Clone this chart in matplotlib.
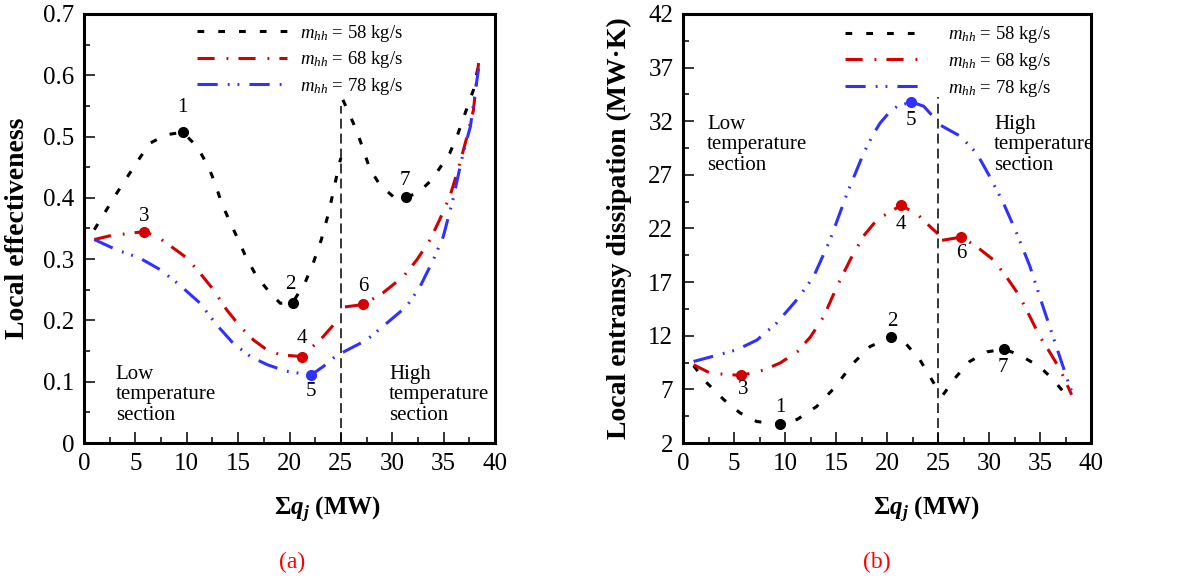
import matplotlib
matplotlib.use('Agg')
import matplotlib.pyplot as plt
from matplotlib.ticker import MultipleLocator, FuncFormatter

plt.rcParams['font.family'] = ['Liberation Serif', 'DejaVu Serif']
plt.rcParams['mathtext.fontset'] = 'custom'
plt.rcParams['mathtext.rm'] = 'Liberation Serif'
plt.rcParams['mathtext.it'] = 'Liberation Serif:italic'
plt.rcParams['mathtext.bf'] = 'Liberation Serif:bold'
plt.rcParams['mathtext.bfit'] = 'Liberation Serif:bold:italic'

# ---- data ----
labels = [r'$m_{hh}$ = 58 kg/s', r'$m_{hh}$ = 68 kg/s', r'$m_{hh}$ = 78 kg/s']

# (a) local effectiveness
eff58_low_x = [1.0, 3.2, 5.3, 6.4, 8.0, 9.6, 11.0, 12.1, 12.75, 13.4, 14.2, 15.0, 15.8, 16.8, 18.1, 19.1, 20.3, 21.5, 22.3, 23.1, 23.8, 24.3, 24.85, 25.0]
eff58_low_y = [0.348, 0.408, 0.462, 0.489, 0.503, 0.507, 0.484, 0.451, 0.424, 0.391, 0.361, 0.332, 0.302, 0.272, 0.245, 0.228, 0.229, 0.261, 0.293, 0.332, 0.375, 0.413, 0.456, 0.465]
eff58_high_x = [25.2, 26.5, 27.2, 27.8, 28.8, 30.1, 31.3, 32.5, 33.7, 34.6, 35.6, 36.4, 37.2, 37.9, 38.4]
eff58_high_y = [0.56, 0.511, 0.478, 0.448, 0.421, 0.402, 0.401, 0.408, 0.427, 0.448, 0.473, 0.505, 0.543, 0.576, 0.617]
eff68_low_x = [1.0, 2.5, 5.84, 7.1, 8.7, 10.0, 11.3, 12.6, 13.9, 15.2, 16.5, 17.8, 19.1, 21.2, 22.3, 23.3, 24.3, 25.0]
eff68_low_y = [0.332, 0.338, 0.345, 0.337, 0.318, 0.302, 0.277, 0.25, 0.217, 0.19, 0.168, 0.152, 0.144, 0.141, 0.158, 0.174, 0.193, 0.206]
eff68_high_x = [25.4, 27.2, 29.1, 31.1, 32.4, 33.7, 34.6, 35.6, 36.4, 37.2, 37.9, 38.4]
eff68_high_y = [0.222, 0.226, 0.245, 0.272, 0.299, 0.332, 0.364, 0.402, 0.446, 0.495, 0.543, 0.62]
eff78_low_x = [1.0, 3.2, 5.4, 7.4, 9.3, 11.3, 12.9, 14.5, 16.2, 17.8, 19.7, 22.1, 23.3, 24.3, 25.0]
eff78_low_y = [0.332, 0.315, 0.302, 0.283, 0.258, 0.228, 0.193, 0.163, 0.141, 0.128, 0.117, 0.111, 0.125, 0.139, 0.145]
eff78_high_x = [25.2, 27.5, 29.5, 31.4, 32.7, 34.0, 34.97, 35.9, 36.9, 37.6, 38.4]
eff78_high_y = [0.148, 0.168, 0.196, 0.223, 0.255, 0.299, 0.337, 0.397, 0.473, 0.516, 0.611]

eff_pts_x = [[9.6, 20.3, 31.3], [5.84, 21.2, 27.2], [22.1]]
eff_pts_y = [[0.507, 0.229, 0.401], [0.345, 0.141, 0.226], [0.111]]
eff_num = ['1', '2', '3', '4', '5', '6', '7']
eff_num_x = [9.6, 20.1, 5.84, 21.2, 22.06, 27.2, 31.2]
eff_num_y = [0.548, 0.258, 0.37, 0.171, 0.084, 0.255, 0.429]

# (b) local entransy dissipation
ent58_low_x = [1.04, 2.35, 4.0, 5.6, 7.25, 9.5, 11.2, 13.1, 14.8, 16.7, 18.35, 20.4, 21.9, 23.2, 24.2, 24.9]
ent58_low_y = [9.2, 7.6, 6.04, 4.8, 4.0, 3.77, 4.2, 5.4, 7.1, 9.45, 11.0, 11.85, 11.2, 9.8, 8.2, 7.1]
ent58_high_x = [25.5, 26.8, 28.1, 29.8, 31.5, 33.0, 35.0, 36.3, 37.8]
ent58_high_y = [6.5, 8.2, 9.6, 10.5, 10.75, 10.2, 9.1, 7.9, 6.2]
ent68_low_x = [1.04, 2.7, 5.7, 7.9, 9.5, 11.2, 12.5, 13.8, 15.1, 16.4, 17.7, 19.0, 21.35, 22.9, 24.2, 25.0]
ent68_low_y = [9.3, 8.5, 8.3, 8.8, 9.45, 10.5, 11.9, 13.8, 16.6, 19.1, 21.3, 22.8, 24.15, 23.4, 22.2, 21.5]
ent68_high_x = [25.4, 27.3, 28.8, 30.4, 31.7, 33.0, 34.0, 35.0, 36.0, 37.0, 38.1]
ent68_high_y = [20.9, 21.2, 20.3, 19.1, 17.5, 15.7, 13.8, 11.9, 10.4, 8.8, 6.5]
ent78_low_x = [1.04, 3.0, 5.3, 7.25, 9.2, 11.2, 12.8, 14.4, 16.1, 17.7, 18.6, 19.3, 20.2, 21.0, 22.4, 23.6, 24.55, 25.0]
ent78_low_y = [9.6, 10.1, 10.7, 11.6, 13.2, 15.4, 17.5, 20.9, 25.3, 29.0, 30.7, 31.8, 32.8, 33.4, 33.8, 33.4, 32.4, 32.0]
ent78_high_x = [25.3, 27.2, 28.8, 30.1, 31.4, 32.7, 34.0, 35.3, 36.6, 37.9, 38.3]
ent78_high_y = [31.6, 30.6, 29.0, 26.8, 24.4, 21.6, 18.5, 14.7, 11.0, 7.3, 6.4]

ent_pts_x = [[9.5, 20.4, 31.5], [5.7, 21.35, 27.3], [22.4]]
ent_pts_y = [[3.77, 11.85, 10.75], [8.3, 24.15, 21.2], [33.8]]
ent_num = ['1', '2', '3', '4', '5', '6', '7']
ent_num_x = [9.53, 20.5, 5.94, 21.35, 22.3, 27.3, 31.4]
ent_num_y = [5.3, 13.3, 7.0, 22.35, 32.1, 19.7, 9.0]

colours = ('black', '#d40000', '#3030ff')
dash_styles = ((0, (2.2, 4.6)),
               (0, (5.6, 3.9, 0.6, 3.3)),
               (0, (6.6, 3.3, 0.6, 2.6, 0.6, 3.3)))
LW = 2.2


def style_axes(ax, ymin, ymax, ymajor, yminor, yoff, ylabel):
    ax.set_xlim(0, 40)
    ax.set_ylim(ymin, ymax)
    ax.xaxis.set_major_locator(MultipleLocator(5))
    ax.xaxis.set_minor_locator(MultipleLocator(2.5))
    ax.yaxis.set_major_locator(MultipleLocator(ymajor, offset=yoff))
    ax.yaxis.set_minor_locator(MultipleLocator(yminor, offset=yoff))
    ax.tick_params(which='both', direction='in', top=False, right=False,
                   labelsize=18, width=1.1, pad=7)
    ax.tick_params(which='major', length=8)
    ax.tick_params(which='minor', length=4.5)
    for s in ax.spines.values():
        s.set_linewidth(2.2)
    ax.set_ylabel(ylabel, fontsize=20, fontweight='bold')
    ax.set_xlabel('Σ' + r'$\mathbfit{q}_{\mathbfit{j}}$' + ' (MW)', fontsize=18, fontweight='bold')


def plot_panel(ax, segs, pts_x, pts_y, num, num_x, num_y):
    for i, (lx, ly, hx, hy) in enumerate(segs):
        ax.plot(lx, ly, color=colours[i], lw=LW, linestyle=dash_styles[i], label=labels[i])
        ax.plot(hx, hy, color=colours[i], lw=LW, linestyle=dash_styles[i], label='')
        ax.plot(pts_x[i], pts_y[i], 'o', color=colours[i], markersize=7, label='')
    for t, x, y in zip(num, num_x, num_y):
        ax.text(x, y, t, fontsize=15, ha='center', va='center')


def eff_fmt(v, pos):
    if abs(v) < 1e-9:
        return '0'
    return '{:.1f}'.format(v)


fig = plt.figure(figsize=(11.83, 5.81), dpi=100)
ax1 = fig.add_axes([84 / 1183, 138 / 581, 411 / 1183, 429 / 581])
ax2 = fig.add_axes([683 / 1183, 138 / 581, 408 / 1183, 429 / 581])

plot_panel(ax1,
           [(eff58_low_x, eff58_low_y, eff58_high_x, eff58_high_y),
            (eff68_low_x, eff68_low_y, eff68_high_x, eff68_high_y),
            (eff78_low_x, eff78_low_y, eff78_high_x, eff78_high_y)],
           eff_pts_x, eff_pts_y, eff_num, eff_num_x, eff_num_y)
ax1.plot([25, 25], [0, 0.55], color='black', lw=1.1, linestyle=(0, (6.5, 3.3)))
ax1.text(3.1, 0.128, 'Low\ntemperature\nsection', fontsize=15, va='top', ha='left', linespacing=1.12)
ax1.text(29.7, 0.128, 'High\ntemperature\nsection', fontsize=15, va='top', ha='left', linespacing=1.12)
style_axes(ax1, 0, 0.7, 0.1, 0.05, 0, 'Local effectiveness')
ax1.yaxis.set_major_formatter(FuncFormatter(eff_fmt))

plot_panel(ax2,
           [(ent58_low_x, ent58_low_y, ent58_high_x, ent58_high_y),
            (ent68_low_x, ent68_low_y, ent68_high_x, ent68_high_y),
            (ent78_low_x, ent78_low_y, ent78_high_x, ent78_high_y)],
           ent_pts_x, ent_pts_y, ent_num, ent_num_x, ent_num_y)
ax2.plot([25, 25], [2, 34.3], color='black', lw=1.1, linestyle=(0, (6.5, 3.3)))
ax2.text(2.35, 32.6, 'Low\ntemperature\nsection', fontsize=15, va='top', ha='left', linespacing=1.12)
ax2.text(30.5, 32.6, 'High\ntemperature\nsection', fontsize=15, va='top', ha='left', linespacing=1.12)
style_axes(ax2, 2, 42, 5, 2.5, 2, 'Local entransy dissipation (MW·K)')

ax1.legend(loc='upper left', bbox_to_anchor=(0.275, 0.98), frameon=False, fontsize=13.5,
           handlelength=4.8, handletextpad=0.7, labelspacing=0.3, borderpad=0, borderaxespad=0)
ax2.legend(loc='upper left', bbox_to_anchor=(0.397, 0.976), frameon=False, fontsize=13.5,
           handlelength=4.4, handletextpad=1.1, labelspacing=0.3, borderpad=0, borderaxespad=0)

ax1.xaxis.set_label_coords(0.592, -0.12)
ax2.xaxis.set_label_coords(0.596, -0.12)
ax1.yaxis.set_label_coords(-0.131, 0.5)
ax2.yaxis.set_label_coords(-0.125, 0.5)

fig.text(292 / 1183, 1 - 562 / 581, '(a)', color='red', fontsize=17, ha='center', va='center')
fig.text(877 / 1183, 1 - 562 / 581, '(b)', color='red', fontsize=17, ha='center', va='center')

fig.savefig('out.png', dpi=100)
